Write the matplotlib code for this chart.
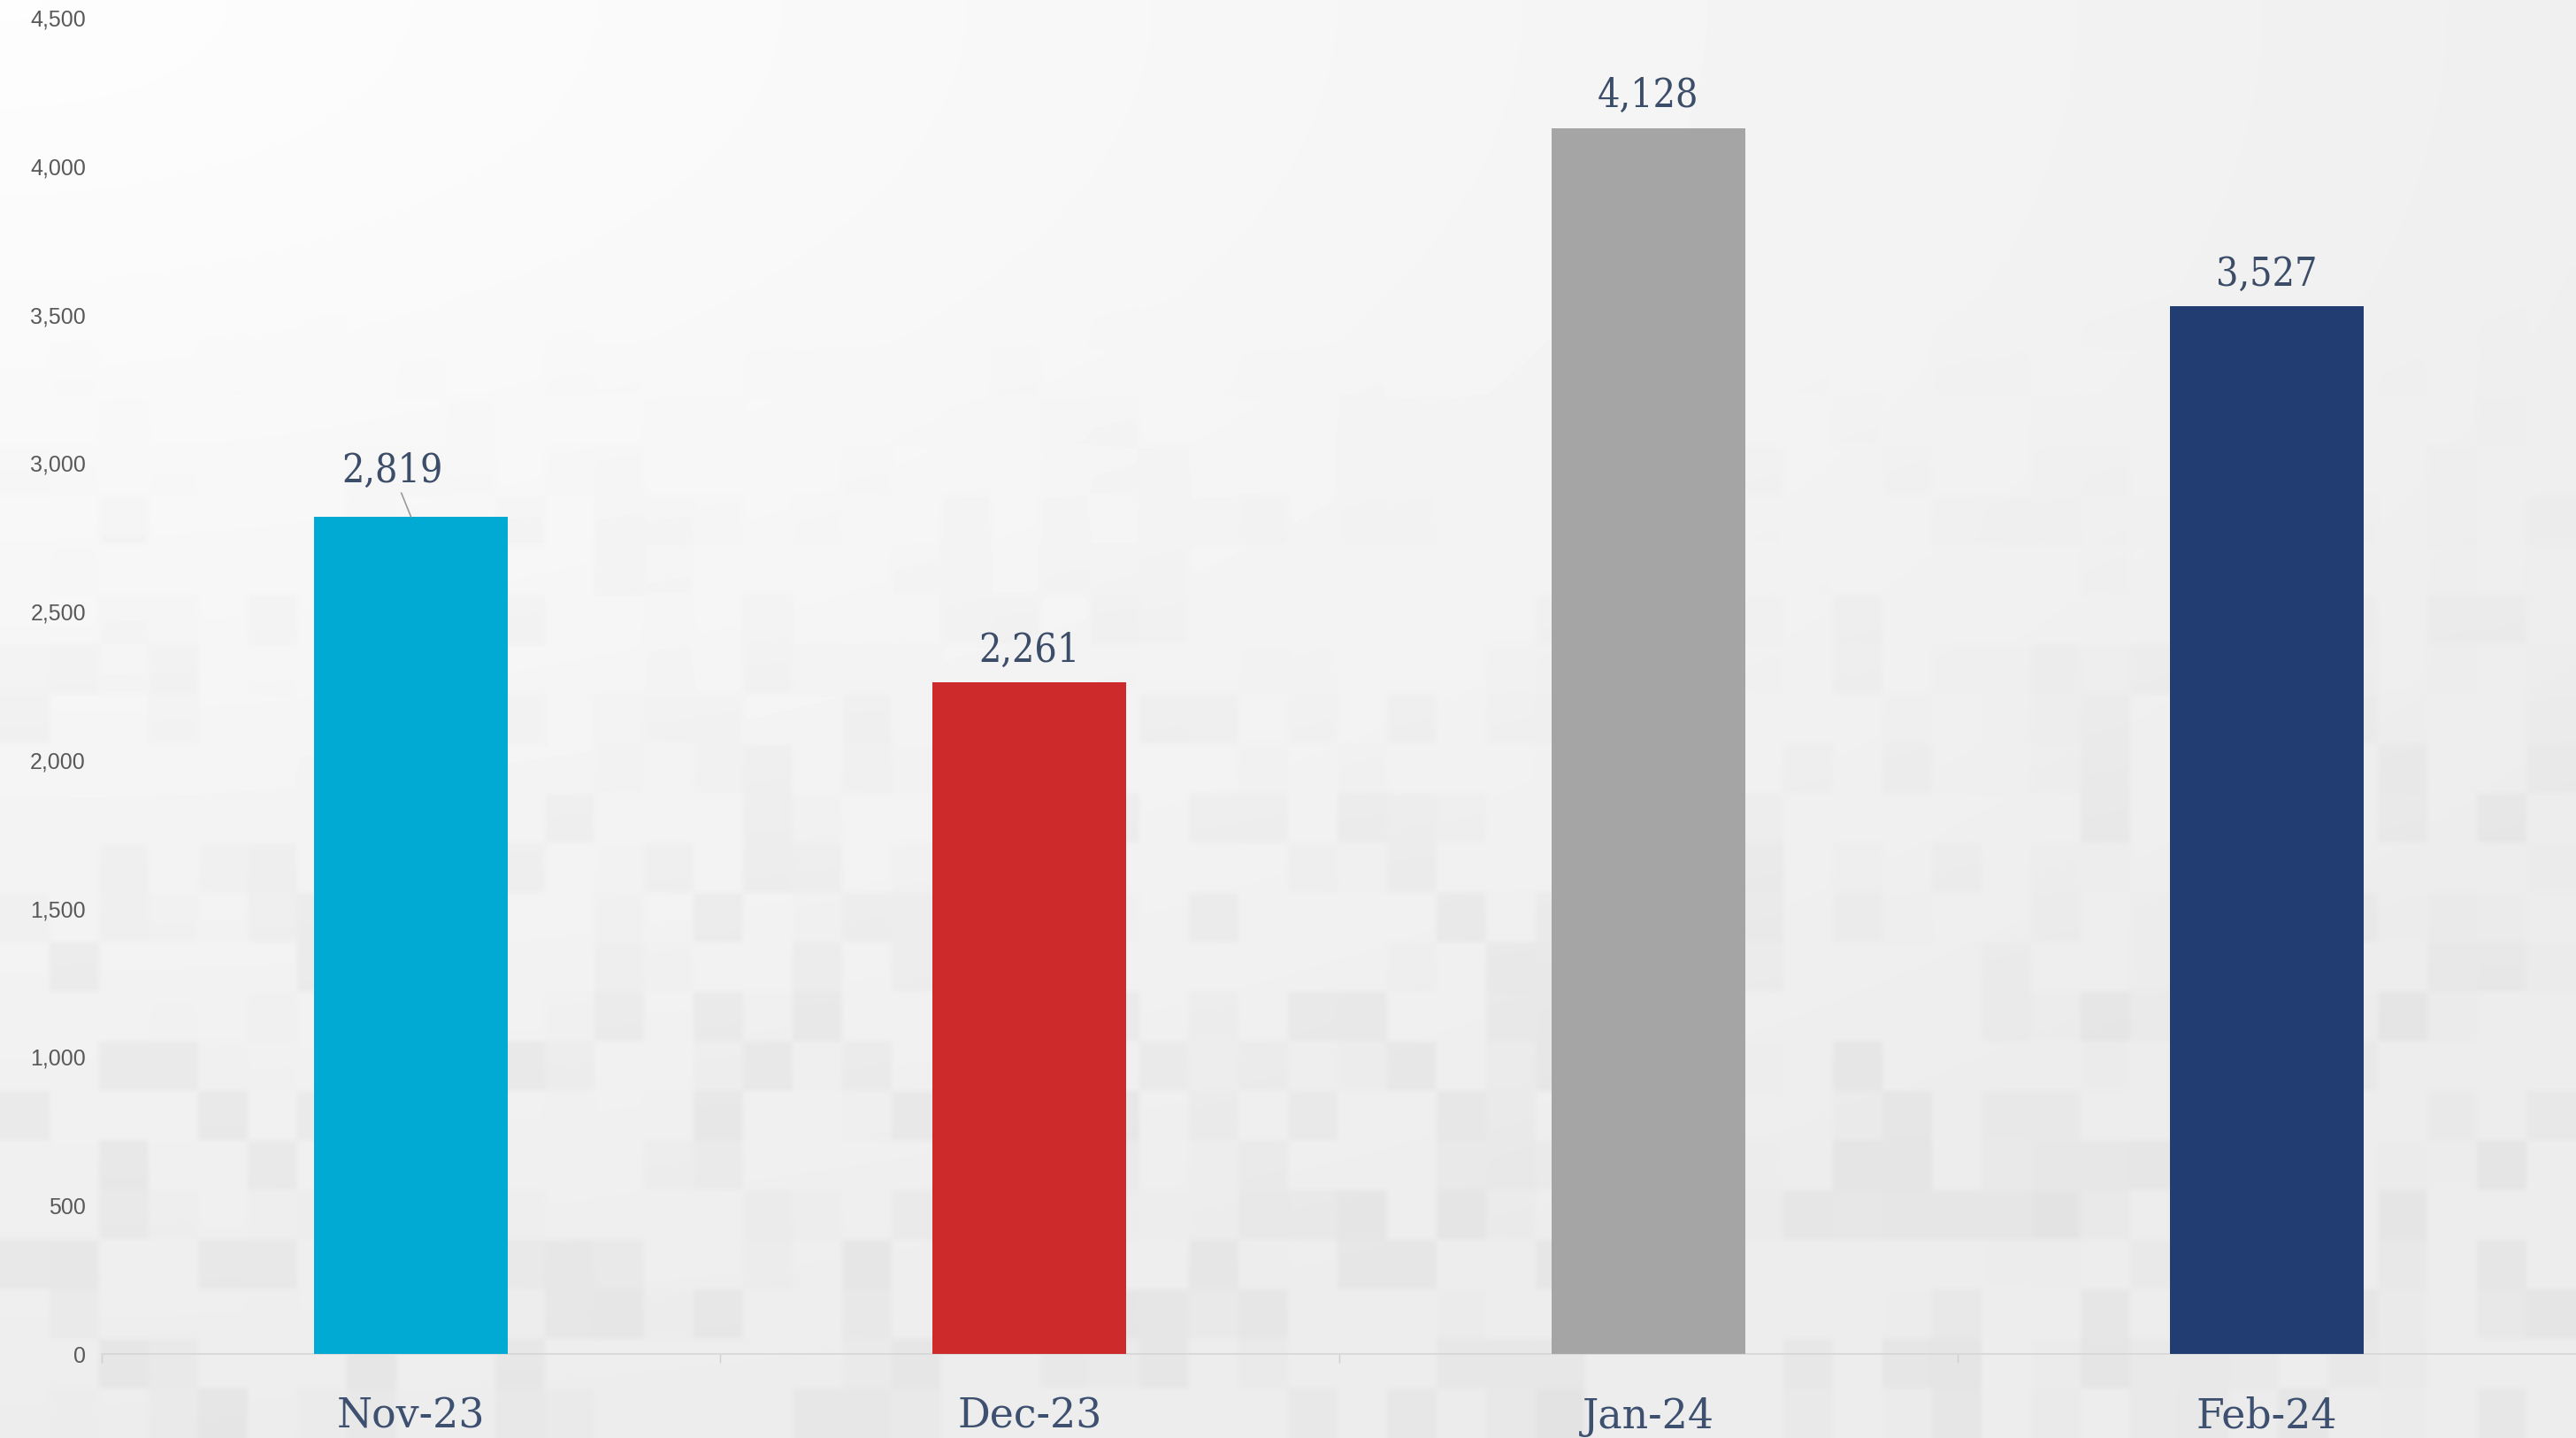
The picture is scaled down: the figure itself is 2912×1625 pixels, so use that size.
import matplotlib.pyplot as plt
import numpy as np

months = ['Nov-23', 'Dec-23', 'Jan-24', 'Feb-24']
counts = [2819, 2261, 4128, 3527]
bar_colors = ['#00aad2', '#cd2a2b', '#a5a5a5', '#213d72']
y_ticks = [0, 500, 1000, 1500, 2000, 2500, 3000, 3500, 4000, 4500]

W, H = 2912, 1625
fig = plt.figure(figsize=(W / 100, H / 100), dpi=100)

# background: soft grey gradient with a faint mosaic (decoration only)
bg = fig.add_axes([0, 0, 1, 1], zorder=-1)
sub = 8
gh, gw = H // sub, W // sub
yy, xx = np.mgrid[0:gh, 0:gw]
xs, ys = xx / gw, yy / gh
shade = 0.993 - 0.065 * np.clip(np.sqrt(0.7 * xs ** 2 + ys ** 2), 0, 1)
rng = np.random.default_rng(3)
cell = 7
cells = rng.random((gh // cell + 1, gw // cell + 1))
tiles = np.kron(cells, np.ones((cell, cell)))[:gh, :gw]
fade = np.clip((ys - 0.2) / 0.5, 0, 1)
mosaic = np.where(tiles > 0.5, (tiles - 0.5) * 0.07, 0) * fade
img = np.clip(shade - mosaic, 0, 1)
bg.imshow(img, cmap='gray', vmin=0, vmax=1, aspect='auto', interpolation='bilinear')
bg.axis('off')

ax = fig.add_axes([115 / W, 1 - 1530 / H, 1 - 115 / W, (1530 - 20) / H])
ax.patch.set_alpha(0)
x = np.arange(len(months))
ax.bar(x, counts, width=0.313, color=bar_colors, zorder=3)
ax.set_xlim(-0.5, len(months) - 0.5)
ax.set_ylim(0, 4500)

ax.set_yticks(y_ticks)
ax.set_yticklabels([f'{v:,}' for v in y_ticks], family='Liberation Sans')
ax.set_xticks(x)
ax.set_xticklabels(months, family='DejaVu Serif')
ax.set_xticks(x - 0.5, minor=True)

ax.tick_params(axis='y', length=0, pad=13, labelsize=18, labelcolor='#595959')
ax.tick_params(axis='x', which='major', length=0, pad=35, labelsize=33, labelcolor='#3e5070')
ax.tick_params(axis='x', which='minor', length=7, width=1, color='#d0d0d0')
for s in ['top', 'right', 'left']:
    ax.spines[s].set_visible(False)
ax.spines['bottom'].set_color('#d6d6d6')
ax.spines['bottom'].set_linewidth(1.2)

label_font = dict(family='DejaVu Serif', fontstretch='condensed', fontsize=32, color='#3c4d69')
for i, v in enumerate(counts):
    if i == 0:
        ax.annotate(f'{v:,}', xy=(i, v), xytext=(-15, 28), textcoords='offset points',
                    ha='center', va='baseline',
                    arrowprops=dict(arrowstyle='-', color='#9a9a9a', lw=1.2, shrinkA=0, shrinkB=0),
                    **label_font)
    else:
        ax.annotate(f'{v:,}', xy=(i, v), xytext=(0, 17), textcoords='offset points',
                    ha='center', va='baseline', **label_font)

fig.savefig('out.png', dpi=100)
